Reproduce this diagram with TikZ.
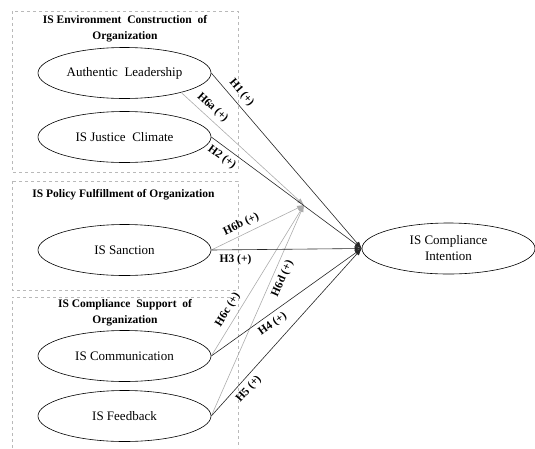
\documentclass[tikz,border=0pt]{standalone}
\usepackage{fontspec}
\setmainfont{Liberation Serif}
\usetikzlibrary{positioning,calc,arrows.meta,shapes.geometric}

\begin{document}
\begin{tikzpicture}[x=1pt,y=-1pt,
    construct/.style={ellipse,draw,line width=0.6pt,minimum width=173pt,minimum height=51pt,inner sep=0pt,align=center,font=\fontsize{13}{16}\selectfont},
    group/.style={draw=gray!55,dashed,line width=0.4pt},
    grouptitle/.style={font=\bfseries\fontsize{11.5}{16.5}\selectfont,align=center},
    direct/.style={draw=black!85,line width=0.6pt,-{Latex[length=7pt,width=5pt]}},
    moderate/.style={draw=gray!65,line width=0.6pt,-{Latex[length=7pt,width=5pt]}},
    hyp/.style={font=\bfseries\fontsize{11.5}{13}\selectfont,sloped,inner sep=4.5pt}]
    \useasboundingbox (0,0) rectangle (535,448);

    % dashed groups
    \draw [group] (12,11) rectangle (238,172);
    \draw [group] (12,181) rectangle (238,290);
    \draw [group] (12,448) -- (12,297) -- (238,297) -- (238,448);
    \node [grouptitle] (env-title) at (125,28.5) {IS Environment\ \ Construction\ \ of\\Organization};
    \node [grouptitle] (policy-title) at (123.5,195) {IS Policy\ Fulfillment\ of Organization};
    \node [grouptitle] (support-title) at (125,312.5) {IS Compliance\ \ Support\ \ of\\Organization};

    % constructs
    \node [construct] (leader) at (124.5,73) {Authentic\ \ Leadership};
    \node [construct] (justice) at (124.5,137) {IS Justice\ \ Climate};
    \node [construct] (sanction) at (124.5,250) {IS Sanction};
    \node [construct] (commun) at (124.5,356) {IS Communication};
    \node [construct] (feedback) at (124.5,416) {IS Feedback};
    \node [construct] (intention) at (448.5,248.5) {IS Compliance\\Intention};
    \coordinate (hub) at (304,205);

    % moderating paths
    \draw [moderate] (leader.-19) -- (hub) node [hyp,pos=0.2,above] {H6a (+)};
    \draw [moderate] (sanction.east) -- (hub) node [hyp,pos=0.37,above] {H6b (+)};
    \draw [moderate] (commun.east) -- (hub) node [hyp,pos=0.27,above] {H6c (+)};
    \draw [moderate] (feedback.east) -- (hub) node [hyp,pos=0.67,below] {H6d (+)};

    % direct paths
    \draw [direct] (leader.east) -- (intention.west) node [hyp,pos=0.15,above] {H1 (+)};
    \draw [direct] (justice.east) -- (intention.west) node [hyp,pos=0.11,below] {H2 (+)};
    \draw [direct] (sanction.east) -- (intention.west) node [hyp,pos=0.16,below] {H3 (+)};
    \draw [direct] (commun.east) -- (intention.west) node [hyp,pos=0.37,below] {H4 (+)};
    \draw [direct] (feedback.east) -- (intention.west) node [hyp,pos=0.2,below] {H5 (+)};
\end{tikzpicture}
\end{document}
